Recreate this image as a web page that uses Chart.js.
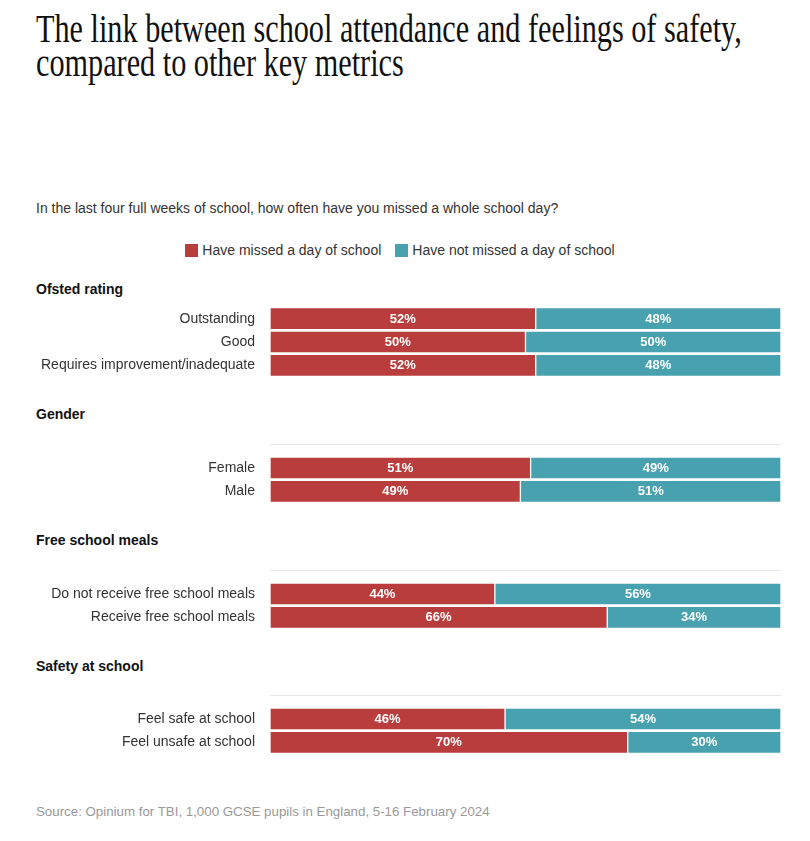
<!DOCTYPE html>
<html>
<head>
<meta charset="utf-8">
<script src="https://cdn.jsdelivr.net/npm/chart.js@4.4.1/dist/chart.umd.min.js"></script>
<style>
  html, body { margin: 0; padding: 0; background: #fff; }
  body { width: 810px; height: 841px; position: relative; overflow: hidden; font-family: "Liberation Sans", Arial, sans-serif; }
  .abs { position: absolute; white-space: nowrap; }
  #title { left: 36px; top: 12px; font-family: "Liberation Serif", serif; font-size: 40px; line-height: 34px; color: #111; transform-origin: 0 0; }
  #subtitle { left: 36px; top: 200px; font-size: 14px; line-height: 16px; color: #333; }
  #legend { left: -5px; width: 810px; top: 242px; font-size: 14px; line-height: 16px; color: #333; text-align: center; }
  #legend span.item { display: inline-block; margin: 0 7px; }
  #legend span.sw { display: inline-block; width: 13px; height: 13px; vertical-align: -2px; margin-right: 4px; }
  .hdr { left: 36px; font-size: 14px; line-height: 16px; font-weight: bold; color: #111; }
  #source { left: 36px; top: 804px; font-size: 13.3px; line-height: 16px; color: #999; }
  canvas.panel { position: absolute; left: 0; }
</style>
</head>
<body>
<div id="title" class="abs">The link between school attendance and feelings of safety,<br>compared to other key metrics</div>
<div id="subtitle" class="abs">In the last four full weeks of school, how often have you missed a whole school day?</div>
<div id="legend" class="abs"></div>

<div class="abs hdr" style="top:281px">Ofsted rating</div>
<canvas id="c1" class="panel" width="810" height="70" style="top:307px"></canvas>
<div class="abs hdr" style="top:406px">Gender</div>
<canvas id="c2" class="panel" width="810" height="70" style="top:433px"></canvas>
<div class="abs hdr" style="top:532px">Free school meals</div>
<canvas id="c3" class="panel" width="810" height="70" style="top:559px"></canvas>
<div class="abs hdr" style="top:658px">Safety at school</div>
<canvas id="c4" class="panel" width="810" height="70" style="top:684px"></canvas>

<div id="source" class="abs">Source: Opinium for TBI, 1,000 GCSE pupils in England, 5-16 February 2024</div>

<script>
// ---- Data ----
const seriesNames = ['Have missed a day of school', 'Have not missed a day of school'];
const seriesColors = ['#B93D3C', '#47A1AF'];

const ofstedCategories = ['Outstanding', 'Good', 'Requires improvement/inadequate'];
const ofstedMissed = [52, 50, 52];
const ofstedNotMissed = [48, 50, 48];

const genderCategories = ['Female', 'Male'];
const genderMissed = [51, 49];
const genderNotMissed = [49, 51];

const mealsCategories = ['Do not receive free school meals', 'Receive free school meals'];
const mealsMissed = [44, 66];
const mealsNotMissed = [56, 34];

const safetyCategories = ['Feel safe at school', 'Feel unsafe at school'];
const safetyMissed = [46, 70];
const safetyNotMissed = [54, 30];

// ---- Title width fit ----
(function () {
  const t = document.getElementById('title');
  const w = t.scrollWidth;
  const target = 706;
  t.style.transform = 'scaleX(' + (target / w) + ')';
})();

// ---- Legend ----
(function () {
  const lg = document.getElementById('legend');
  seriesNames.forEach((n, i) => {
    const item = document.createElement('span');
    item.className = 'item';
    const sw = document.createElement('span');
    sw.className = 'sw';
    sw.style.background = seriesColors[i];
    item.appendChild(sw);
    item.appendChild(document.createTextNode(n));
    lg.appendChild(item);
  });
})();

// ---- Value labels plugin ----
const valueLabels = {
  id: 'valueLabels',
  afterDatasetsDraw(chart) {
    const ctx = chart.ctx;
    ctx.save();
    ctx.font = 'bold 13px "Liberation Sans", Arial, sans-serif';
    ctx.fillStyle = '#ffffff';
    ctx.textAlign = 'center';
    ctx.textBaseline = 'middle';
    chart.data.datasets.forEach((ds, di) => {
      const meta = chart.getDatasetMeta(di);
      meta.data.forEach((el, i) => {
        const v = ds.data[i];
        if (v === null || v === undefined) return;
        const x = (el.x + el.base) / 2;
        ctx.fillText(v + '%', x, el.y + 0.5);
      });
    });
    ctx.restore();
  }
};

function makePanel(id, categories, missed, notMissed, withRule) {
  const labels = withRule ? [''].concat(categories) : categories.slice();
  const pad = withRule ? [null] : [];
  new Chart(document.getElementById(id), {
    type: 'bar',
    data: {
      labels: labels,
      datasets: [
        { label: seriesNames[0], data: pad.concat(missed), backgroundColor: seriesColors[0] },
        { label: seriesNames[1], data: pad.concat(notMissed), backgroundColor: seriesColors[1] }
      ]
    },
    options: {
      indexAxis: 'y',
      responsive: false,
      animation: false,
      devicePixelRatio: 1,
      layout: { padding: { left: 0, right: 29, top: 0, bottom: 0 } },
      datasets: {
        bar: {
          barThickness: 22,
          borderWidth: 1,
          borderColor: 'rgba(255,255,255,0.55)',
          borderSkipped: false
        }
      },
      plugins: { legend: { display: false }, tooltip: { enabled: false } },
      scales: {
        x: { stacked: true, min: 0, max: 100, display: false },
        y: {
          stacked: true,
          afterFit(scale) {
            scale.width = 270;
            scale.paddingTop = 0;
            scale.paddingBottom = 0;
          },
          border: { display: false },
          grid: {
            offset: false,
            drawTicks: false,
            lineWidth: 1,
            color: (c) => (withRule && c.index === 0) ? '#e6e6e6' : 'rgba(0,0,0,0)'
          },
          ticks: {
            padding: 15,
            autoSkip: false,
            color: '#333',
            font: { family: '"Liberation Sans", Arial, sans-serif', size: 14 }
          }
        }
      }
    },
    plugins: [valueLabels]
  });
}

makePanel('c1', ofstedCategories, ofstedMissed, ofstedNotMissed, false);
makePanel('c2', genderCategories, genderMissed, genderNotMissed, true);
makePanel('c3', mealsCategories, mealsMissed, mealsNotMissed, true);
makePanel('c4', safetyCategories, safetyMissed, safetyNotMissed, true);
</script>
</body>
</html>
